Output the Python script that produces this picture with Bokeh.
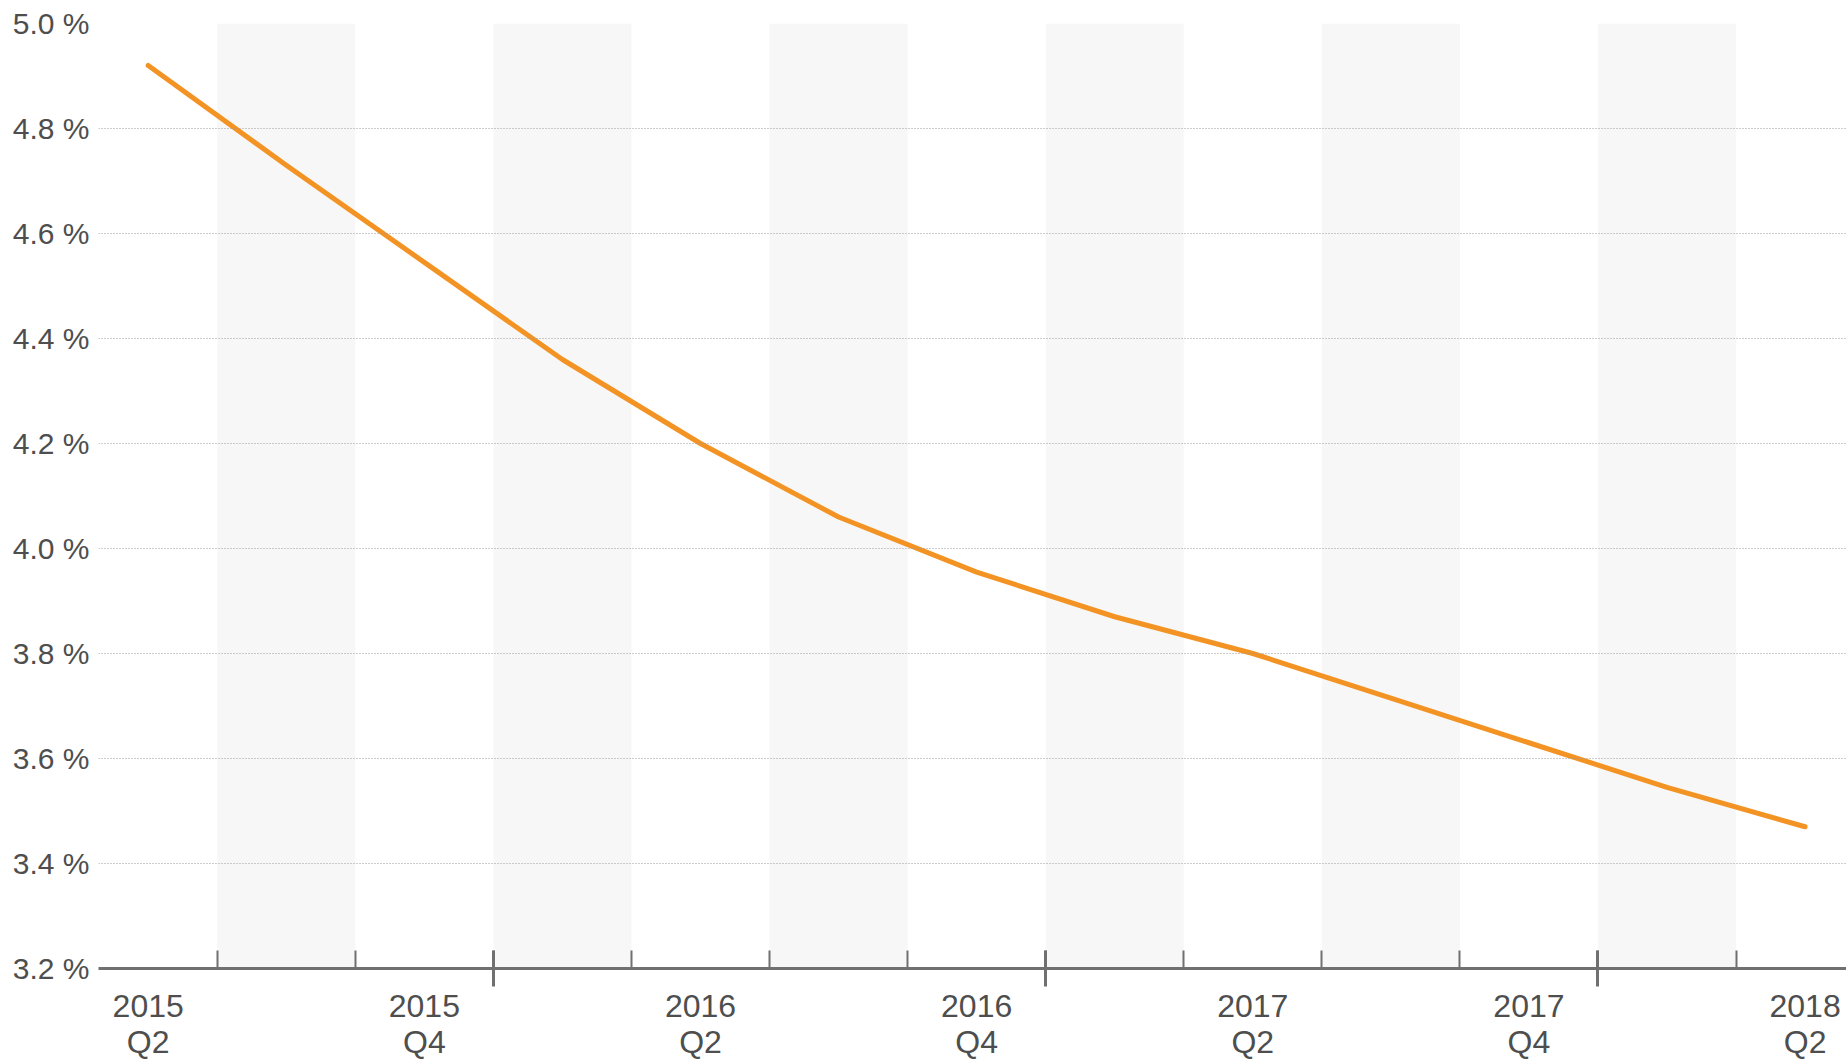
from bokeh.plotting import figure
from bokeh.models import FixedTicker, LinearAxis, Range1d, PrintfTickFormatter
from bokeh.embed import file_html
from bokeh.resources import INLINE

quarters = ["2015 Q2", "2015 Q3", "2015 Q4", "2016 Q1", "2016 Q2", "2016 Q3", "2016 Q4",
            "2017 Q1", "2017 Q2", "2017 Q3", "2017 Q4", "2018 Q1", "2018 Q2"]
rate = [4.92, 4.73, 4.545, 4.36, 4.20, 4.06, 3.955, 3.87, 3.80, 3.715, 3.63, 3.545, 3.47]
y_ticks = [3.2, 3.4, 3.6, 3.8, 4.0, 4.2, 4.4, 4.6, 4.8, 5.0]

idx = list(range(len(quarters)))
band_idx = [i for i, q in zip(idx, quarters) if q.endswith("Q1") or q.endswith("Q3")]
label_idx = [i for i, q in zip(idx, quarters) if q.endswith("Q2") or q.endswith("Q4")]
year_bounds = [i - 0.5 for i, q in zip(idx, quarters) if q.endswith("Q1")]
quarter_bounds = [i + 0.5 for i in idx]

FONT = "Liberation Sans"
TXT = "#4e4e4e"
AX = "#707070"

p = figure(frame_width=1748, frame_height=945,
           x_range=Range1d(-0.36, 12.30), y_range=Range1d(y_ticks[0], y_ticks[-1]),
           output_backend="svg", toolbar_location=None,
           min_border_left=98, min_border_top=23, min_border_right=0, min_border_bottom=0)
p.outline_line_color = None
p.background_fill_color = "white"

# alternating quarter bands
p.vbar(x=band_idx, width=1, bottom=y_ticks[0], top=y_ticks[-1],
       fill_color="#F7F7F7", line_color=None, level="underlay")

# line
p.line(idx, rate, line_color="#F39324", line_width=5, line_cap="round", line_join="round")

# grid
p.xgrid.visible = False
p.ygrid.ticker = FixedTicker(ticks=y_ticks)
p.ygrid.grid_line_color = "#9a9a9a"
p.ygrid.grid_line_dash = "1 2"
p.ygrid.grid_line_width = 1
p.ygrid.level = "glyph"

# y axis
yax = p.yaxis[0]
yax.ticker = FixedTicker(ticks=y_ticks)
yax.formatter = PrintfTickFormatter(format="%.1f %%")
yax.axis_line_color = None
yax.major_tick_line_color = None
yax.minor_tick_line_color = None
yax.major_label_standoff = 3
yax.major_label_text_font = FONT
yax.major_label_text_font_size = "30px"
yax.major_label_text_color = TXT

# x axis with tick marks (no labels)
xax = p.xaxis[0]
xax.ticker = FixedTicker(ticks=year_bounds, minor_ticks=quarter_bounds)
xax.axis_line_color = AX
xax.axis_line_width = 3
xax.major_tick_line_color = AX
xax.major_tick_line_width = 3
xax.major_tick_in = 18
xax.major_tick_out = 18
xax.minor_tick_line_color = AX
xax.minor_tick_line_width = 2
xax.minor_tick_in = 18
xax.minor_tick_out = 0
xax.major_label_text_font_size = "0px"
xax.major_label_standoff = 0
xax.major_label_overrides = {b: "" for b in year_bounds}

# x axis with labels
lab = LinearAxis(ticker=FixedTicker(ticks=label_idx, minor_ticks=[]))
lab.major_label_overrides = {i: quarters[i].replace(" ", "\n") for i in label_idx}
lab.axis_line_color = None
lab.major_tick_line_color = None
lab.minor_tick_line_color = None
lab.major_tick_in = 0
lab.major_tick_out = 0
lab.major_label_standoff = 1
lab.major_label_text_font = FONT
lab.major_label_text_font_size = "32px"
lab.major_label_text_color = TXT
lab.major_label_text_line_height = 1.0
p.add_layout(lab, "below")

open("out.html", "w").write(file_html(p, INLINE))
